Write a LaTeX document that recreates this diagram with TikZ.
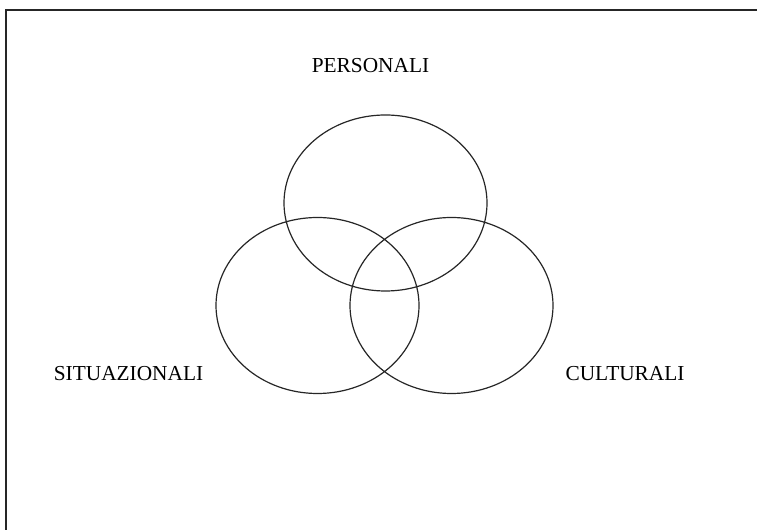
\documentclass[tikz,border=0pt]{standalone}
\usepackage{fontspec}
\setmainfont{Liberation Serif}
\begin{document}
\begin{tikzpicture}[x=0.75pt,y=-0.75pt]
	\useasboundingbox (0,0) rectangle (757,530);
	\tikzset{label/.style={font=\fontsize{16}{19}\selectfont,inner sep=0pt}}
	\draw[line width=1.6pt,color=black!85] (6,540)|-(770,10);
	\draw[line width=0.9pt,color=black!85] (385.5,203) ellipse (101.5 and 88)
		(317.5,305.5) ellipse (101.5 and 88) (451.5,305.5) ellipse (101.5 and 88);
	\node[label] (pers) at (370.5,66) {PERSONALI};
	\node[label] (situ) at (128.5,374) {SITUAZIONALI};
	\node[label] (cult) at (625,374) {CULTURALI};
\end{tikzpicture}
\end{document}
